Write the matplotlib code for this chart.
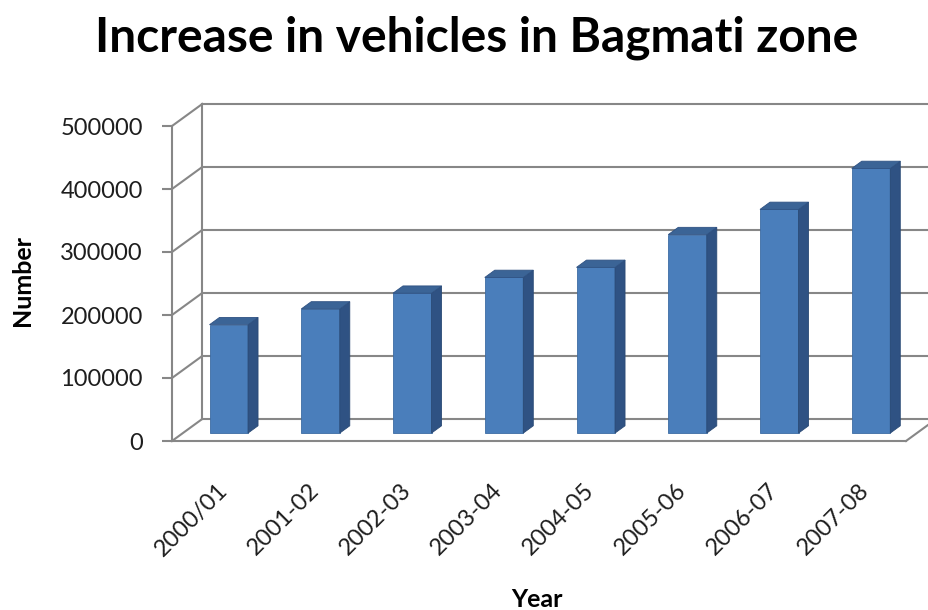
import matplotlib.pyplot as plt
import matplotlib.transforms as mtransforms
from matplotlib.patches import Polygon

years = ['2000/01', '2001-02', '2002-03', '2003-04', '2004-05', '2005-06', '2006-07', '2007-08']
vehicles = [172000, 197000, 222000, 247000, 263000, 315000, 355000, 420000]
y_ticks = [0, 100000, 200000, 300000, 400000, 500000]

plt.rcParams['font.family'] = ['Lato', 'DejaVu Sans']

GRID = '#878787'
FRONT = '#4a7ebb'
SIDE = '#2f5283'
TOP = '#3b6496'

fig = plt.figure(figsize=(9.29, 6.10), dpi=100)
ax = fig.add_axes([172 / 929, 169 / 610, 734 / 929, 315 / 610])
ax.set_xlim(-0.5, len(years) - 0.5)
ax.set_ylim(0, y_ticks[-1])

# oblique depth of the floor in data units, bars sit between F0 and F1 of it
DX, DY = 0.33, 35000
F0, F1 = 0.36, 0.69
BAR_W = 0.42

x_left = -0.5
x_right = len(years) - 0.5

# side wall and back wall gridlines
for t in y_ticks:
    ax.plot([x_left, x_left + DX], [t, t + DY], color=GRID, lw=1.5, clip_on=False, zorder=1)
    ax.plot([x_left + DX, x_right + DX + 1], [t + DY, t + DY], color=GRID, lw=1.5,
            clip_on=False, zorder=1)
ax.plot([x_left + DX, x_left + DX], [DY, y_ticks[-1] + DY], color=GRID, lw=1.5,
        clip_on=False, zorder=1)
# floor right edge
ax.plot([x_right, x_right + DX], [0, DY], color=GRID, lw=1.5, clip_on=False, zorder=1)

# 3d columns
ddx = (F1 - F0) * DX
ddy = (F1 - F0) * DY
for i, v in enumerate(vehicles):
    x0 = i - BAR_W / 2 + F0 * DX
    y0 = F0 * DY
    x1 = x0 + BAR_W
    front = Polygon([(x0, y0), (x1, y0), (x1, y0 + v), (x0, y0 + v)],
                    closed=True, fc=FRONT, ec='#3d6ca3', lw=0.6, clip_on=False, zorder=3)
    side = Polygon([(x1, y0), (x1 + ddx, y0 + ddy), (x1 + ddx, y0 + v + ddy), (x1, y0 + v)],
                   closed=True, fc=SIDE, ec='#2a4a75', lw=0.6, clip_on=False, zorder=3)
    top = Polygon([(x0, y0 + v), (x1, y0 + v), (x1 + ddx, y0 + v + ddy), (x0 + ddx, y0 + v + ddy)],
                  closed=True, fc=TOP, ec='#2f5283', lw=0.6, clip_on=False, zorder=3)
    for p in (front, side, top):
        ax.add_patch(p)

for s in ('top', 'right'):
    ax.spines[s].set_visible(False)
for s in ('left', 'bottom'):
    ax.spines[s].set_color(GRID)
    ax.spines[s].set_linewidth(1.5)
    ax.spines[s].set_zorder(2)

ax.set_yticks(y_ticks)
ax.set_yticklabels([str(t) for t in y_ticks])
ax.tick_params(axis='y', length=7, width=1.5, color=GRID, labelsize=17, pad=14,
               labelcolor='#1e1e1e')

ax.set_xticks(range(len(years)))
ax.set_xticklabels(years, rotation=45, ha='right', va='center', rotation_mode='anchor')
ax.tick_params(axis='x', length=0, labelsize=17, pad=33, labelcolor='#1e1e1e')
shift = mtransforms.ScaledTranslation(6 / 100, 0, fig.dpi_scale_trans)
for lbl in ax.get_xticklabels():
    lbl.set_transform(lbl.get_transform() + shift)

ax.set_facecolor('none')

fig.text(477 / 929, 1 - 52 / 610, 'Increase in vehicles in Bagmati zone',
         ha='center', va='baseline', fontsize=34.5, fontweight='bold')
fig.text(23 / 929, 1 - 281 / 610, 'Number', rotation=90, ha='center', va='center',
         fontsize=18, fontweight='bold')
fig.text(537 / 929, 1 - 607 / 610, 'Year', ha='center', va='baseline',
         fontsize=18, fontweight='bold')

fig.savefig('out.png', dpi=100)
